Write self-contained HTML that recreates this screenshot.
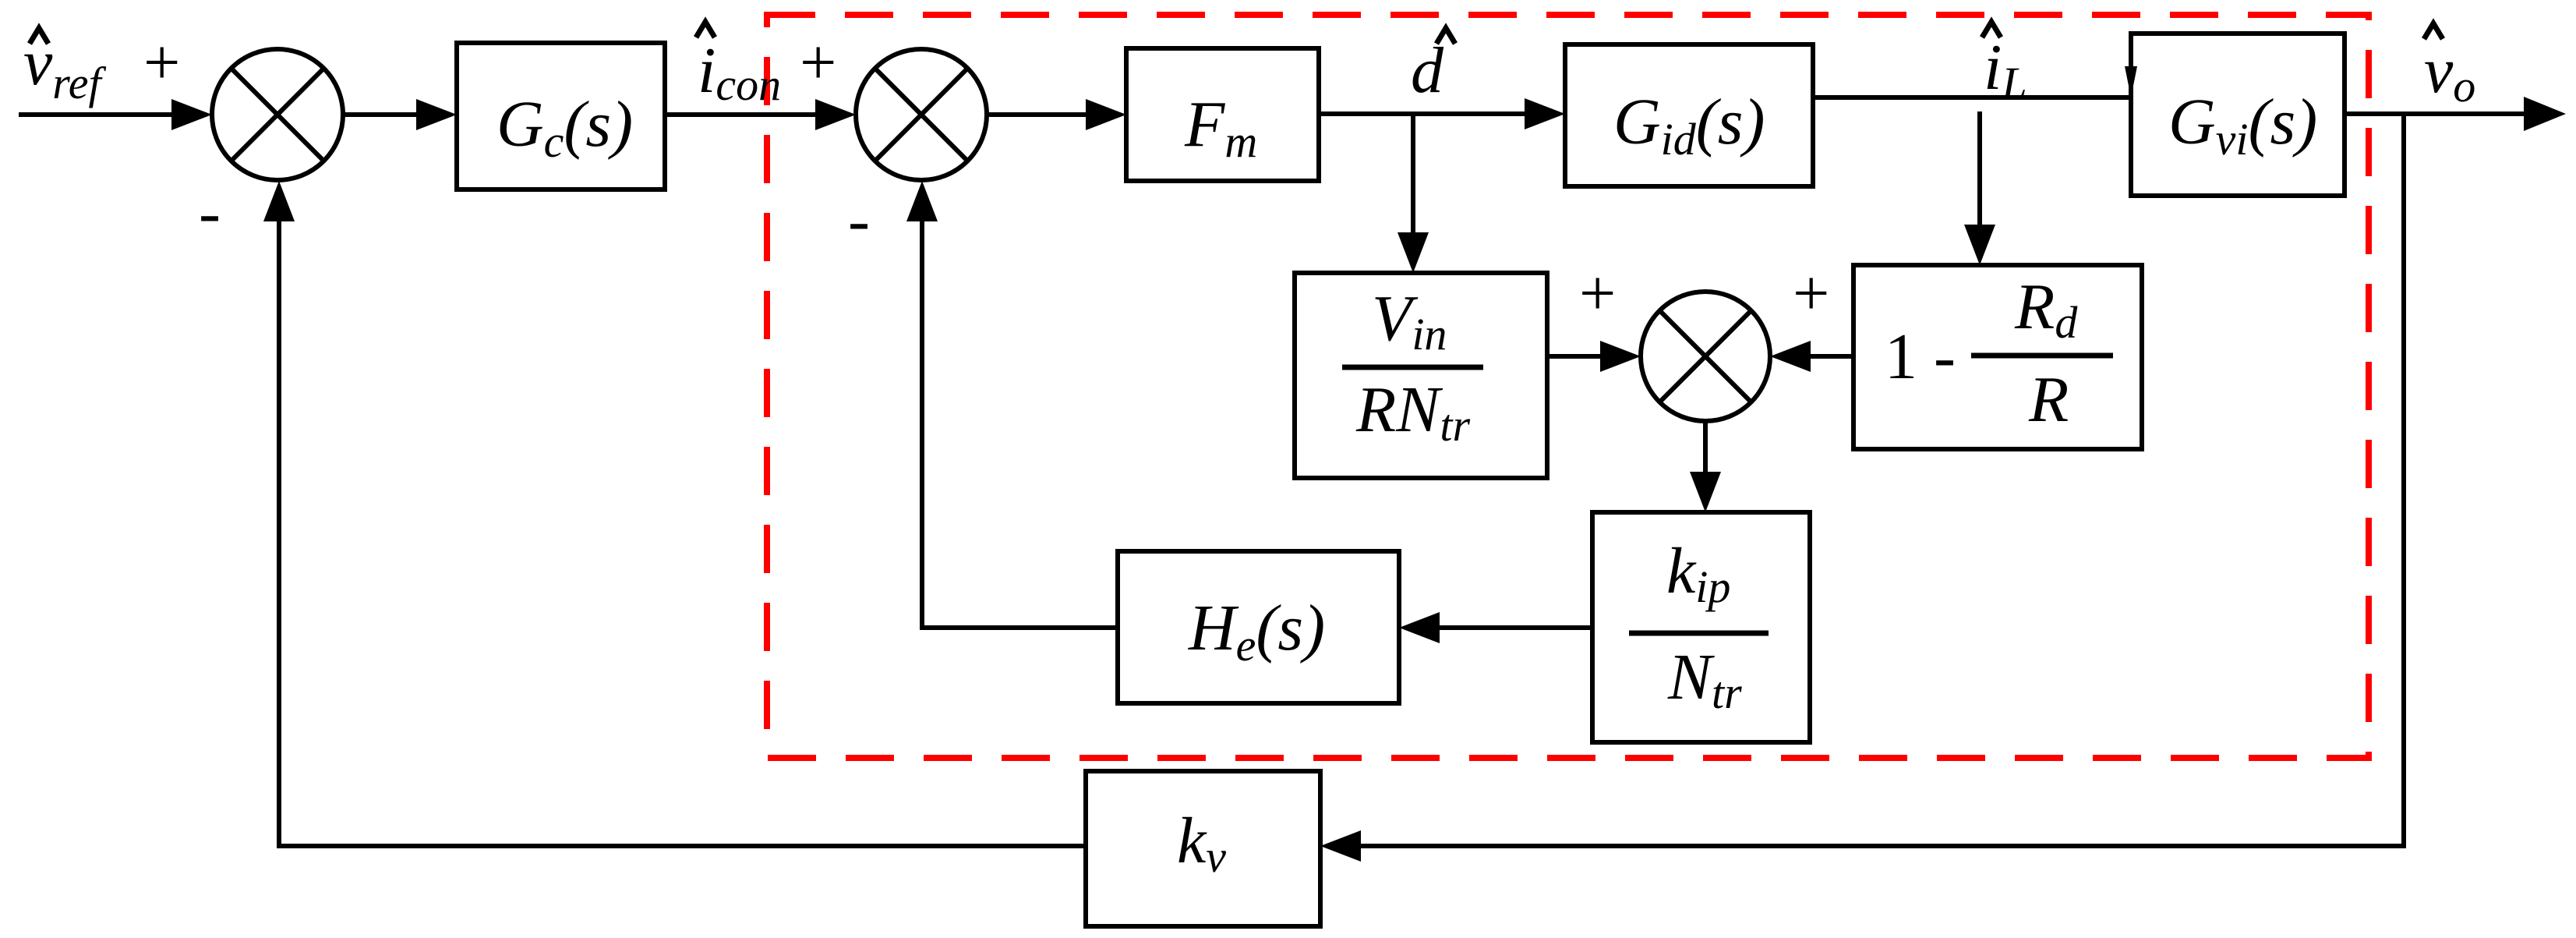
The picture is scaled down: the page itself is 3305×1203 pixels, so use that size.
<!DOCTYPE html>
<html><head><meta charset="utf-8"><style>
html,body{margin:0;padding:0;background:#fff;}
svg{display:block;}
text{font-family:"Liberation Serif","DejaVu Serif",serif;font-style:italic;fill:#000;}
.n{font-style:normal;}
</style></head><body>
<svg width="3305" height="1203" viewBox="0 0 3305 1203" xmlns="http://www.w3.org/2000/svg">
<rect x="984" y="19" width="2055" height="953" fill="none" stroke="#f00" stroke-width="8" stroke-dasharray="62 38"/>
<g stroke="#000" stroke-width="6" fill="none">
<rect x="586" y="55" width="267" height="188"/>
<rect x="1445" y="62" width="247" height="170"/>
<rect x="2008" y="57" width="318" height="182"/>
<rect x="2734" y="43" width="274" height="208"/>
<rect x="1661" y="350" width="324" height="263"/>
<rect x="2378" y="340" width="370" height="236"/>
<rect x="2043" y="657" width="279" height="295"/>
<rect x="1434" y="707" width="361" height="195"/>
<rect x="1393" y="989" width="301" height="199"/>
<circle cx="356" cy="147" r="84"/>
<line x1="297" y1="88" x2="415" y2="206"/><line x1="415" y1="88" x2="297" y2="206"/>
<circle cx="1182" cy="147" r="84"/>
<line x1="1123" y1="88" x2="1241" y2="206"/><line x1="1241" y1="88" x2="1123" y2="206"/>
<circle cx="2188" cy="457" r="83"/>
<line x1="2129" y1="398" x2="2247" y2="516"/><line x1="2247" y1="398" x2="2129" y2="516"/>
<polyline points="24,147 222,147"/>
<polyline points="440,147 536,147"/>
<polyline points="853,147 1048,147"/>
<polyline points="1266,147 1395,147"/>
<polyline points="1692,146 1958,146"/>
<polyline points="1813,146 1813,300"/>
<polyline points="2326,125 2734,125"/>
<polyline points="2540,143 2540,290"/>
<polyline points="3008,146 3240,146"/>
<polyline points="3084,146 3084,1085 1744,1085"/>
<polyline points="1393,1085 358,1085 358,283"/>
<polyline points="1434,805 1183,805 1183,283"/>
<polyline points="2043,805 1845,805"/>
<polyline points="1985,457 2055,457"/>
<polyline points="2378,457 2321,457"/>
<polyline points="2188,540 2188,607"/>
</g>
<g fill="#000">
<polygon points="272,147 220,127 220,167"/>
<polygon points="586,147 534,127 534,167"/>
<polygon points="1098,147 1046,127 1046,167"/>
<polygon points="1445,147 1393,127 1393,167"/>
<polygon points="2008,146 1956,126 1956,166"/>
<polygon points="3292,146 3238,124 3238,168"/>
<polygon points="1813,350 1793,298 1833,298"/>
<polygon points="2540,340 2520,288 2560,288"/>
<polygon points="2188,657 2168,605 2208,605"/>
<polygon points="358,232 338,284 378,284"/>
<polygon points="1183,232 1163,284 1203,284"/>
<polygon points="1795,805 1847,785 1847,825"/>
<polygon points="1694,1085 1746,1065 1746,1105"/>
<polygon points="2105,457 2053,437 2053,477"/>
<polygon points="2271,457 2323,437 2323,477"/>
<polygon points="2734,125 2726,85 2742,85"/>
</g>
<g stroke="#000" stroke-width="7" fill="none">
<polyline points="38,56 50,36 62,56"/>
<polyline points="893,48 905,28 917,48"/>
<polyline points="1843,56 1855,36 1867,56"/>
<polyline points="2543,48 2555,28 2567,48"/>
<polyline points="3110,50 3122,30 3134,50"/>
</g>
<g font-size="84">
<text x="30" y="108">v<tspan font-size="58" dy="18">ref</tspan></text>
<text class="n" x="184" y="108" font-size="84">+</text>
<text class="n" x="255" y="300" font-size="84">-</text>
<text x="637" y="187">G<tspan font-size="58" dy="14">c</tspan><tspan dy="-14">(s)</tspan></text>
<text x="895" y="118">i<tspan font-size="58" dy="10">con</tspan></text>
<text class="n" x="1026" y="108" font-size="84">+</text>
<text class="n" x="1088" y="310" font-size="84">-</text>
<text x="1520" y="187">F<tspan font-size="58" dy="14">m</tspan></text>
<text x="1810" y="118">d</text>
<text x="2070" y="184">G<tspan font-size="58" dy="14">id</tspan><tspan dy="-14">(s)</tspan></text>
<text x="2545" y="114">i<tspan font-size="58" dy="12">L</tspan></text>
<text x="2782" y="184">G<tspan font-size="58" dy="14">vi</tspan><tspan dy="-14">(s)</tspan></text>
<text x="3110" y="118">v<tspan font-size="58" dy="12">o</tspan></text>
<text x="1760" y="436">V<tspan font-size="58" dy="12">in</tspan></text>
<line x1="1722" y1="471" x2="1903" y2="471" stroke="#000" stroke-width="7"/>
<text x="1740" y="553">RN<tspan font-size="58" dy="12">tr</tspan></text>
<text class="n" x="2026" y="404" font-size="84">+</text>
<text class="n" x="2300" y="404" font-size="84">+</text>
<text class="n" x="2418" y="485">1 -</text>
<text x="2585" y="421">R<tspan font-size="58" dy="12">d</tspan></text>
<line x1="2529" y1="456" x2="2711" y2="456" stroke="#000" stroke-width="7"/>
<text x="2603" y="540">R</text>
<text x="2138" y="760">k<tspan font-size="58" dy="12">ip</tspan></text>
<line x1="2090" y1="812" x2="2269" y2="812" stroke="#000" stroke-width="7"/>
<text x="2140" y="896">N<tspan font-size="58" dy="12">tr</tspan></text>
<text x="1525" y="833">H<tspan font-size="58" dy="14">e</tspan><tspan dy="-14">(s)</tspan></text>
<text x="1510" y="1106">k<tspan font-size="58" dy="12">v</tspan></text>
</g>
</svg>
</body></html>
